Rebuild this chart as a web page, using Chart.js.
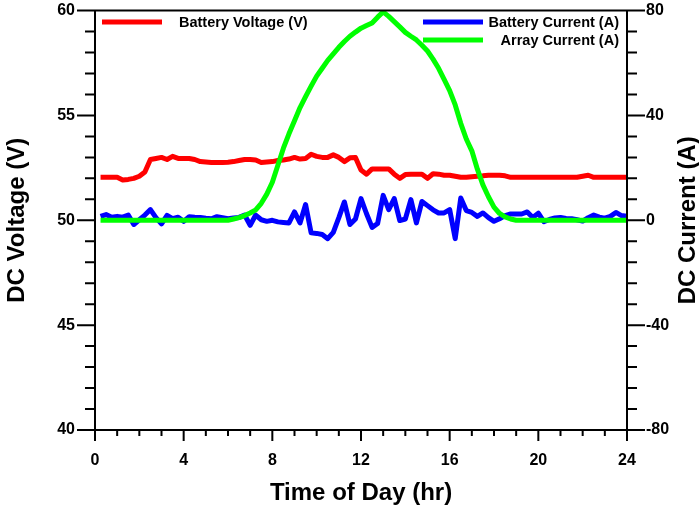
<!DOCTYPE html>
<html>
<head>
<meta charset="utf-8">
<title>DC Voltage and Current</title>
<script src="https://cdn.jsdelivr.net/npm/chart.js@4.4.0/dist/chart.umd.min.js"></script>
<style>
  html, body { margin: 0; padding: 0; background: #ffffff; }
  #chart { display: block; }
</style>
</head>
<body>
<canvas id="chart" width="699" height="510"></canvas>
<script>
// Sample times (hr), one reading every 15 minutes
const hours = [
    0.25, 0.5, 0.75, 1, 1.25, 1.5, 1.75, 2, 2.25, 2.5, 2.75, 3,
    3.25, 3.5, 3.75, 4, 4.25, 4.5, 4.75, 5, 5.25, 5.5, 5.75, 6,
    6.25, 6.5, 6.75, 7, 7.25, 7.5, 7.75, 8, 8.25, 8.5, 8.75, 9,
    9.25, 9.5, 9.75, 10, 10.25, 10.5, 10.75, 11, 11.25, 11.5, 11.75, 12,
    12.25, 12.5, 12.75, 13, 13.25, 13.5, 13.75, 14, 14.25, 14.5, 14.75, 15,
    15.25, 15.5, 15.75, 16, 16.25, 16.5, 16.75, 17, 17.25, 17.5, 17.75, 18,
    18.25, 18.5, 18.75, 19, 19.25, 19.5, 19.75, 20, 20.25, 20.5, 20.75, 21,
    21.25, 21.5, 21.75, 22, 22.25, 22.5, 22.75, 23, 23.25, 23.5, 23.75, 24
];

// Battery voltage (V)
const batteryVoltage = [
    52.05, 52.05, 52.05, 52.05, 51.92, 51.95, 52.0, 52.1, 52.3, 52.9, 52.95, 53.0,
    52.9, 53.05, 52.95, 52.95, 52.95, 52.9, 52.8, 52.78, 52.76, 52.76, 52.76, 52.77,
    52.8, 52.85, 52.9, 52.9, 52.88, 52.76, 52.78, 52.8, 52.85, 52.88, 52.92, 53.0,
    52.92, 52.95, 53.15, 53.05, 53.0, 53.0, 53.12, 53.0, 52.8, 52.98, 53.0, 52.4,
    52.2, 52.45, 52.45, 52.45, 52.45, 52.2, 52.0, 52.18, 52.2, 52.2, 52.2, 52.0,
    52.22, 52.2, 52.15, 52.15, 52.1, 52.05, 52.05, 52.08, 52.1, 52.12, 52.15, 52.15,
    52.15, 52.12, 52.05, 52.05, 52.05, 52.05, 52.05, 52.05, 52.05, 52.05, 52.05, 52.05,
    52.05, 52.05, 52.05, 52.1, 52.15, 52.05, 52.05, 52.05, 52.05, 52.05, 52.05, 52.05
];

// Battery current (A)
const batteryCurrent = [
    1.5, 2.2, 1.2, 1.5, 1.2, 2.0, -1.6, 0.2, 2.0, 4.1, 1.0, -1.4,
    1.9, 0.6, 1.2, -0.4, 1.4, 1.2, 1.1, 0.8, 0.6, 1.4, 1.0, 0.6,
    0.9, 1.1, 2.0, -1.9, 2.0, 0.2, -0.4, 0.0, -0.6, -0.8, -1.0, 3.2,
    -1.0, 6.0, -4.8, -5.0, -5.4, -7.0, -4.6, 1.0, 7.0, -1.6, 0.5, 8.3,
    2.5, -2.7, -1.2, 9.5, 4.1, 8.3, -0.1, 0.5, 7.9, -1.0, 7.2, 5.6,
    4.0, 2.8, 2.8, 4.1, -7.0, 8.5, 3.7, 3.0, 1.5, 2.8, 1.0, -0.4,
    0.6, 1.8, 2.4, 2.4, 2.4, 3.2, 1.1, 2.7, -0.5, 0.3, 0.9, 1.1,
    0.7, 0.6, 0.2, -0.3, 1.0, 2.0, 1.2, 0.8, 1.5, 3.0, 1.8, 1.5
];

// Array current (A)
const arrayCurrent = [
    0, 0, 0, 0, 0, 0, 0, 0, 0, 0, 0, 0,
    0, 0, 0, 0, 0, 0, 0, 0, 0, 0, 0, 0,
    0.5, 1.0, 1.8, 2.8, 4.0, 6.5, 10, 14.5, 21, 27.5, 33, 38,
    43, 47.2, 51.2, 55, 58, 61, 63.5, 66, 68.2, 70.2, 71.8, 73.3,
    74.3, 75.3, 77.5, 79.5, 77.8, 75.8, 73.8, 71.7, 70.2, 68.8, 66.8, 64.6,
    61.5, 58, 53.8, 49.5, 44, 37, 31, 26.5, 19.5, 13.5, 9, 5,
    2.6, 1.3, 0.5, 0, 0, 0, 0, 0, 0, 0, 0, 0,
    0, 0, 0, 0, 0, 0, 0, 0, 0, 0, 0, 0
];

const seriesLabels = ['Battery Voltage (V)', 'Battery Current (A)', 'Array Current (A)'];
const seriesColors = ['#ff0000', '#0000ff', '#00ff00'];

const FONT = '"Liberation Sans", Arial, Helvetica, sans-serif';

function toPoints(values) {
    return hours.map((h, i) => ({ x: h, y: values[i] }));
}

// Frame plus major/minor tick marks, drawn through the chart scales
const frameAndTicks = {
    id: 'frameAndTicks',
    afterDatasetsDraw(chart) {
        const { ctx, chartArea: a, scales } = chart;
        ctx.save();
        ctx.strokeStyle = '#000';
        ctx.lineWidth = 2;
        ctx.beginPath();
        ctx.rect(a.left, a.top, a.right - a.left, a.bottom - a.top);

        for (let v = 40; v <= 60; v += 1) {
            const y = scales.yV.getPixelForValue(v);
            const len = v % 5 === 0 ? 18 : 10;
            ctx.moveTo(a.left - len, y);
            ctx.lineTo(a.left, y);
        }
        for (let v = -80; v <= 80; v += 8) {
            const y = scales.yA.getPixelForValue(v);
            const len = v % 40 === 0 ? 18 : 10;
            ctx.moveTo(a.right, y);
            ctx.lineTo(a.right + len, y);
        }
        for (let h = 0; h <= 24; h += 1) {
            const x = scales.x.getPixelForValue(h);
            const len = h % 4 === 0 ? 11 : 6;
            ctx.moveTo(x, a.bottom);
            ctx.lineTo(x, a.bottom + len);
        }
        ctx.stroke();
        ctx.restore();
    }
};

// Axis titles (both y titles read bottom-to-top)
const axisTitles = {
    id: 'axisTitles',
    afterDraw(chart) {
        const { ctx, chartArea: a } = chart;
        const midY = (a.top + a.bottom) / 2;
        ctx.save();
        ctx.fillStyle = '#000';
        ctx.font = 'bold 24px ' + FONT;
        ctx.textAlign = 'center';
        ctx.textBaseline = 'middle';

        ctx.fillText('Time of Day (hr)', (a.left + a.right) / 2, 493);

        ctx.save();
        ctx.translate(17, midY);
        ctx.rotate(-Math.PI / 2);
        ctx.fillText('DC Voltage (V)', 0, 0);
        ctx.restore();

        ctx.save();
        ctx.translate(688, midY);
        ctx.rotate(-Math.PI / 2);
        ctx.fillText('DC Current (A)', 0, 0);
        ctx.restore();

        ctx.restore();
    }
};

// Legend inside the plot: one entry on the left, two stacked on the right
const insideLegend = {
    id: 'insideLegend',
    afterDraw(chart) {
        const ctx = chart.ctx;
        const sets = chart.data.datasets;
        const entries = [
            { ds: sets[0], x1: 102, x2: 162, y: 22, tx: 179, align: 'left' },
            { ds: sets[1], x1: 423, x2: 483, y: 22, tx: 619, align: 'right' },
            { ds: sets[2], x1: 423, x2: 483, y: 40, tx: 619, align: 'right' }
        ];
        ctx.save();
        ctx.font = 'bold 14.5px ' + FONT;
        ctx.textBaseline = 'middle';
        ctx.fillStyle = '#000';
        entries.forEach(e => {
            ctx.strokeStyle = e.ds.borderColor;
            ctx.lineWidth = 5;
            ctx.beginPath();
            ctx.moveTo(e.x1, e.y);
            ctx.lineTo(e.x2, e.y);
            ctx.stroke();
            ctx.textAlign = e.align;
            ctx.fillText(e.ds.label, e.tx, e.y + 1);
        });
        ctx.restore();
    }
};

const ctx = document.getElementById('chart').getContext('2d');

new Chart(ctx, {
    type: 'line',
    data: {
        datasets: [
            {
                label: seriesLabels[0],
                data: toPoints(batteryVoltage),
                yAxisID: 'yV',
                borderColor: seriesColors[0],
                borderWidth: 5,
                pointRadius: 0,
                order: 3
            },
            {
                label: seriesLabels[1],
                data: toPoints(batteryCurrent),
                yAxisID: 'yA',
                borderColor: seriesColors[1],
                borderWidth: 5,
                pointRadius: 0,
                order: 2
            },
            {
                label: seriesLabels[2],
                data: toPoints(arrayCurrent),
                yAxisID: 'yA',
                borderColor: seriesColors[2],
                borderWidth: 5,
                pointRadius: 0,
                order: 1
            }
        ]
    },
    options: {
        responsive: false,
        animation: false,
        events: [],
        layout: { padding: { top: 10, left: 0, right: 0, bottom: 0 } },
        elements: { line: { borderJoinStyle: 'round', borderCapStyle: 'butt', tension: 0 } },
        plugins: {
            legend: { display: false },
            tooltip: { enabled: false }
        },
        scales: {
            x: {
                type: 'linear',
                min: 0,
                max: 24,
                ticks: {
                    stepSize: 4,
                    padding: 11,
                    color: '#000',
                    font: { family: FONT, size: 16, weight: 'bold' }
                },
                grid: { drawOnChartArea: false, tickLength: 10, tickColor: 'transparent' },
                border: { display: false },
                afterFit: function(scale) { scale.height = 80; }
            },
            yV: {
                position: 'left',
                min: 40,
                max: 60,
                ticks: {
                    stepSize: 5,
                    padding: 1,
                    color: '#000',
                    font: { family: FONT, size: 16, weight: 'bold' }
                },
                grid: { drawOnChartArea: false, tickLength: 19, tickColor: 'transparent' },
                border: { display: false },
                afterFit: function(scale) { scale.width = 95; }
            },
            yA: {
                position: 'right',
                min: -80,
                max: 80,
                ticks: {
                    stepSize: 40,
                    padding: 1,
                    color: '#000',
                    font: { family: FONT, size: 16, weight: 'bold' }
                },
                grid: { drawOnChartArea: false, tickLength: 18, tickColor: 'transparent' },
                border: { display: false },
                afterFit: function(scale) { scale.width = 72; }
            }
        }
    },
    plugins: [frameAndTicks, axisTitles, insideLegend]
});
</script>
</body>
</html>
